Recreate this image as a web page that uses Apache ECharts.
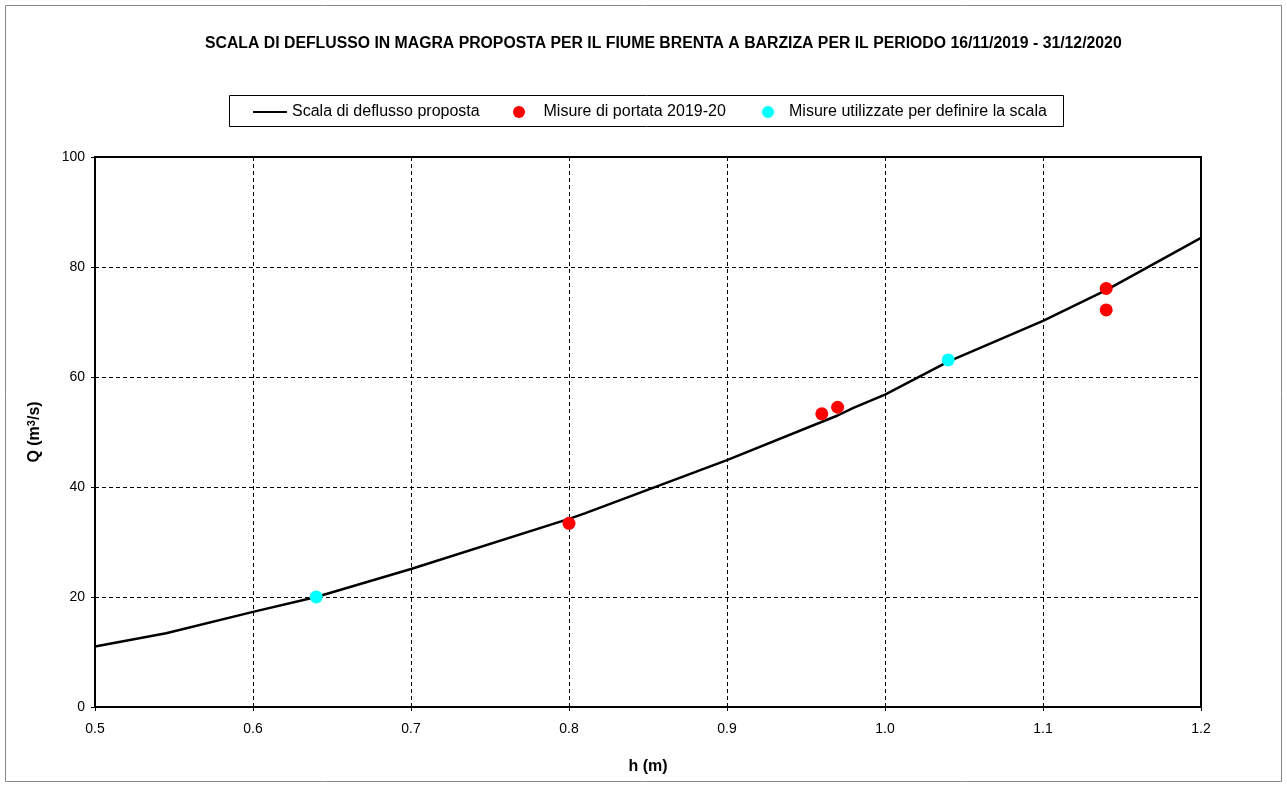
<!DOCTYPE html>
<html><head><meta charset="utf-8">
<script src="https://cdn.jsdelivr.net/npm/echarts@6/dist/echarts.min.js"></script>
<style>html,body{margin:0;padding:0;background:#fff}#c{width:1287px;height:787px}</style>
</head><body><div id="c"></div>
<script>
const curveH = [0.5, 0.545, 0.6, 0.64, 0.7, 0.8, 0.81, 0.9, 0.97, 0.98, 1.0, 1.04, 1.1, 1.14, 1.2];
const curveQ = [11.0, 13.4, 17.3, 20.0, 25.1, 34.2, 35.2, 44.9, 53.0, 54.4, 56.8, 62.8, 70.2, 75.8, 85.3];
const misureH = [0.80, 0.96, 0.97, 1.14, 1.14];
const misureQ = [33.4, 53.3, 54.5, 76.1, 72.2];
const usateH = [0.64, 1.04];
const usateQ = [20.0, 63.1];
const xTicks = {min: 0.5, max: 1.2, step: 0.1};
const yTicks = {min: 0, max: 100, step: 20};
const seriesNames = ['Scala di deflusso proposta', 'Misure di portata 2019-20', 'Misure utilizzate per definire la scala'];
const FONT = 'Liberation Sans, Arial, sans-serif';

const legendText = {fontFamily: FONT, fontSize: 16, color: '#000'};
function leg(name, left, icon, w) {
  return {
    top: 104, left: left, padding: 0, itemGap: 0, itemWidth: w, itemHeight: 12,
    textStyle: legendText, data: [{name: name, icon: icon}]
  };
}

const chart = echarts.init(document.getElementById('c'), null, {renderer: 'canvas'});
chart.setOption({
  animation: false,
  backgroundColor: '#fff',
  textStyle: {fontFamily: FONT, color: '#000'},
  title: {
    text: 'SCALA DI DEFLUSSO IN MAGRA PROPOSTA PER IL FIUME BRENTA A BARZIZA PER IL PERIODO 16/11/2019 - 31/12/2020',
    left: 200, top: 31,
    textStyle: {fontFamily: FONT, fontSize: 15.8, fontWeight: 'bold', color: '#000'}
  },
  graphic: [
    {type: 'rect', shape: {x: 5.5, y: 5.5, width: 1276, height: 776}, style: {fill: 'none', stroke: '#888', lineWidth: 1}, silent: true},
    {type: 'rect', shape: {x: 229.5, y: 95.5, width: 834, height: 31}, style: {fill: 'none', stroke: '#000', lineWidth: 1}, silent: true}
  ],
  legend: [
    leg(seriesNames[0], 253, 'path://M0,5 L34,5 L34,7 L0,7 Z', 34),
    leg(seriesNames[1], 513, 'circle', 39),
    leg(seriesNames[2], 762, 'circle', 32)
  ],
  grid: {left: 95, right: 86, top: 157, bottom: 80, show: true, borderColor: '#000', borderWidth: 2},
  xAxis: {
    type: 'value', min: xTicks.min, max: xTicks.max, interval: xTicks.step,
    name: 'h (m)', nameLocation: 'middle', nameGap: 52,
    nameTextStyle: {fontFamily: FONT, fontSize: 16, fontWeight: 'bold', color: '#000'},
    axisLine: {show: true, lineStyle: {color: '#000', width: 2}},
    axisTick: {show: true, length: 4, lineStyle: {color: '#000'}},
    axisLabel: {fontFamily: FONT, fontSize: 14, color: '#000', margin: 15, formatter: v => v.toFixed(1)},
    splitLine: {show: true, lineStyle: {color: '#000', type: [4, 3], width: 1}}
  },
  yAxis: {
    type: 'value', min: yTicks.min, max: yTicks.max, interval: yTicks.step,
    name: '{b|Q (m}{s|3}{b|/s)}', nameLocation: 'middle', nameGap: 52,
    nameTextStyle: {
      fontFamily: FONT, fontSize: 16, fontWeight: 'bold', color: '#000',
      rich: {
        b: {fontFamily: FONT, fontSize: 16, fontWeight: 'bold', color: '#000'},
        s: {fontFamily: FONT, fontSize: 11, fontWeight: 'bold', color: '#000', verticalAlign: 'top', padding: [0, 0, 6, 0]}
      }
    },
    axisLine: {show: true, lineStyle: {color: '#000', width: 2}},
    axisTick: {show: true, length: 4, lineStyle: {color: '#000'}},
    axisLabel: {fontFamily: FONT, fontSize: 14, color: '#000', margin: 10},
    splitLine: {show: true, lineStyle: {color: '#000', type: [4, 3], width: 1}}
  },
  series: [
    {
      name: seriesNames[0], type: 'line', showSymbol: false, smooth: false,
      color: '#000', lineStyle: {color: '#000', width: 2.5},
      data: curveH.map((h, i) => [h, curveQ[i]]), z: 2
    },
    {
      name: seriesNames[1], type: 'scatter', symbol: 'circle', symbolSize: 13,
      itemStyle: {color: '#ff0000', opacity: 1}, data: misureH.map((h, i) => [h, misureQ[i]]), z: 3
    },
    {
      name: seriesNames[2], type: 'scatter', symbol: 'circle', symbolSize: 13,
      itemStyle: {color: '#00ffff', opacity: 1}, data: usateH.map((h, i) => [h, usateQ[i]]), z: 3
    }
  ]
});
</script></body></html>
